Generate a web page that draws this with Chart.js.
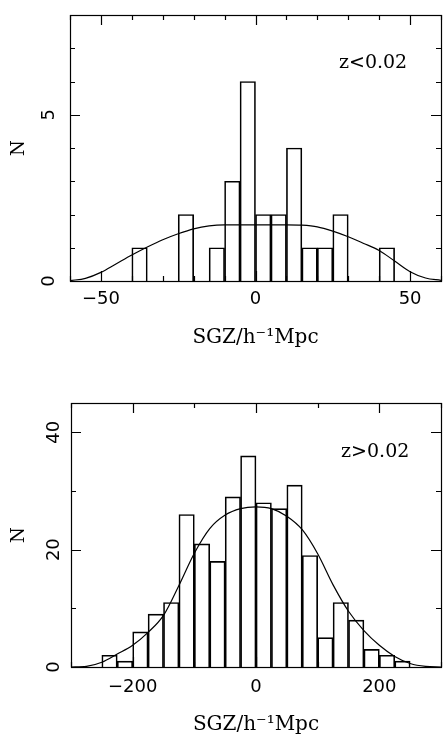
<!DOCTYPE html>
<html>
<head>
<meta charset="utf-8">
<script src="https://cdn.jsdelivr.net/npm/chart.js@4/dist/chart.umd.min.js"></script>
<style>
  body { margin: 0; background: #fff; }
  .panel { position: relative; width: 443px; }
  canvas { display: block; }
</style>
</head>
<body>
<div class="panel"><canvas id="top" width="443" height="360"></canvas></div>
<div class="panel"><canvas id="bottom" width="443" height="375"></canvas></div>
<script>
// z < 0.02 histogram (bin width 5)
const lowBinCenters = [-37.5, -22.5, -12.5, -7.5, -2.5, 2.5, 7.5, 12.5, 17.5, 22.5, 27.5, 42.5];
const lowCounts = [1, 2, 1, 3, 6, 2, 2, 4, 1, 1, 2, 1];
const lowCurveX = [-60, -55, -50, -45, -40, -35, -30, -25, -20, -15, -10, -5, 0, 5, 10, 15, 20, 25, 30, 35, 40, 45, 50, 55, 60];
const lowCurveY = [0.01, 0.08, 0.26, 0.52, 0.78, 1.02, 1.24, 1.42, 1.57, 1.66, 1.69, 1.69, 1.69, 1.69, 1.69, 1.68, 1.63, 1.5, 1.33, 1.13, 0.92, 0.6, 0.28, 0.09, 0.02];

// z > 0.02 histogram (bin width 25)
const highBinCenters = [-237.5, -212.5, -187.5, -162.5, -137.5, -112.5, -87.5, -62.5, -37.5, -12.5, 12.5, 37.5, 62.5, 87.5, 112.5, 137.5, 162.5, 187.5, 212.5, 237.5];
const highCounts = [2, 1, 6, 9, 11, 26, 21, 18, 29, 36, 28, 27, 31, 19, 5, 11, 8, 3, 2, 1];
const highCurveX = [-300, -275, -250, -225, -200, -175, -150, -125, -100, -75, -50, -25, 0, 25, 50, 75, 100, 125, 150, 175, 200, 225, 250, 275, 300];
const highCurveY = [0, 0.1, 0.8, 2.2, 3.7, 5.9, 8.8, 13.9, 19.4, 23.6, 25.9, 27.0, 27.3, 27.0, 25.7, 23.4, 19.3, 14.0, 9.5, 6.2, 3.7, 1.8, 0.6, 0.1, 0];

const tickFont = { family: 'DejaVu Sans', size: 18 };
const titleFont = { family: 'DejaVu Serif', size: 20, lineHeight: 1 };
const minus = v => (v < 0 ? '\u2212' + Math.abs(v) : String(v));

// box round the plot, inward ticks on all four sides, and the z label
const framePlugin = {
  id: 'frame',
  afterDraw(chart, args, opts) {
    const { ctx, chartArea: a, scales: { x, y } } = chart;
    ctx.save();
    ctx.strokeStyle = '#000';
    ctx.lineWidth = 1.2;
    ctx.strokeRect(a.left + 0.5, a.top + 0.5, a.right - a.left, a.bottom - a.top);
    ctx.beginPath();
    x.ticks.forEach(t => {
      const p = Math.round(x.getPixelForValue(t.value)) + 0.5;
      const len = t.label ? 10 : 5;
      ctx.moveTo(p, a.bottom); ctx.lineTo(p, a.bottom - len);
      ctx.moveTo(p, a.top); ctx.lineTo(p, a.top + len);
    });
    y.ticks.forEach(t => {
      const p = Math.round(y.getPixelForValue(t.value)) + 0.5;
      const len = t.label ? 10 : 5;
      ctx.moveTo(a.left, p); ctx.lineTo(a.left + len, p);
      ctx.moveTo(a.right, p); ctx.lineTo(a.right - len, p);
    });
    ctx.stroke();
    ctx.fillStyle = '#000';
    ctx.font = '19px "DejaVu Serif"';
    ctx.textAlign = 'left';
    ctx.textBaseline = 'middle';
    ctx.fillText(opts.text, x.getPixelForValue(opts.x), y.getPixelForValue(opts.y));
    ctx.restore();
  }
};

function makePanel(id, cfg) {
  return new Chart(document.getElementById(id), {
    type: 'bar',
    data: {
      datasets: [
        {
          type: 'line',
          data: cfg.curveX.map((v, i) => ({ x: v, y: cfg.curveY[i] })),
          borderColor: '#000',
          borderWidth: 1.2,
          pointRadius: 0,
          cubicInterpolationMode: 'monotone',
          order: 0
        },
        {
          type: 'bar',
          data: cfg.centers.map((v, i) => ({ x: v, y: cfg.counts[i] })),
          backgroundColor: 'rgba(0,0,0,0)',
          borderColor: '#000',
          borderWidth: 1,
          barPercentage: 1,
          categoryPercentage: 1,
          order: 1
        }
      ]
    },
    options: {
      responsive: false,
      animation: false,
      layout: { padding: { top: cfg.padTop, right: 2, left: 0, bottom: 0 } },
      plugins: {
        legend: { display: false },
        tooltip: { enabled: false },
        frame: { text: cfg.label, x: cfg.labelX, y: cfg.labelY }
      },
      scales: {
        x: {
          type: 'linear',
          offset: false,
          min: cfg.xMin, max: cfg.xMax,
          grid: { display: false },
          border: { display: false },
          ticks: {
            stepSize: cfg.xStep,
            font: tickFont,
            color: '#000',
            padding: cfg.xTickPad,
            maxRotation: 0,
            autoSkip: false,
            includeBounds: false,
            callback: v => (v % cfg.xLabelEvery === 0 ? minus(v) : '')
          },
          title: { display: true, text: 'SGZ/h\u207B\u00B9Mpc', font: titleFont, color: '#000', padding: { top: 0, bottom: cfg.titlePad } },
          afterFit: s => { s.height = cfg.xAxisHeight; s.paddingLeft = 0; s.paddingRight = 0; }
        },
        y: {
          min: 0, max: cfg.yMax,
          grid: { display: false },
          border: { display: false },
          ticks: {
            stepSize: cfg.yStep,
            font: tickFont,
            color: '#000',
            padding: cfg.yTickPad,
            minRotation: 90,
            maxRotation: 90,
            crossAlign: 'center',
            autoSkip: false,
            includeBounds: false,
            callback: v => (v % cfg.yLabelEvery === 0 ? String(v) : '')
          },
          title: { display: true, text: 'N', font: { family: 'DejaVu Serif', size: 18, lineHeight: 1 }, color: '#000', padding: { top: 10, bottom: 0 } },
          afterFit: s => { s.width = cfg.yAxisWidth; s.paddingTop = 0; s.paddingBottom = 0; }
        }
      }
    },
    plugins: [framePlugin]
  });
}

makePanel('top', {
  centers: lowBinCenters, counts: lowCounts, curveX: lowCurveX, curveY: lowCurveY,
  xMin: -60, xMax: 60, xStep: 10, xLabelEvery: 50, xTickPad: 0,
  yMax: 8, yStep: 1, yLabelEvery: 5,
  padTop: 15, xAxisHeight: 79, yAxisWidth: 70, yTickPad: 7, titlePad: 12,
  label: 'z<0.02', labelX: 27, labelY: 6.55
});

makePanel('bottom', {
  centers: highBinCenters, counts: highCounts, curveX: highCurveX, curveY: highCurveY,
  xMin: -300, xMax: 300, xStep: 100, xLabelEvery: 200, xTickPad: 2,
  yMax: 45, yStep: 10, yLabelEvery: 20,
  padTop: 43, xAxisHeight: 68, yAxisWidth: 71, yTickPad: -2.5, titlePad: 0,
  label: 'z>0.02', labelX: 138, labelY: 36.6
});
</script>
</body>
</html>
